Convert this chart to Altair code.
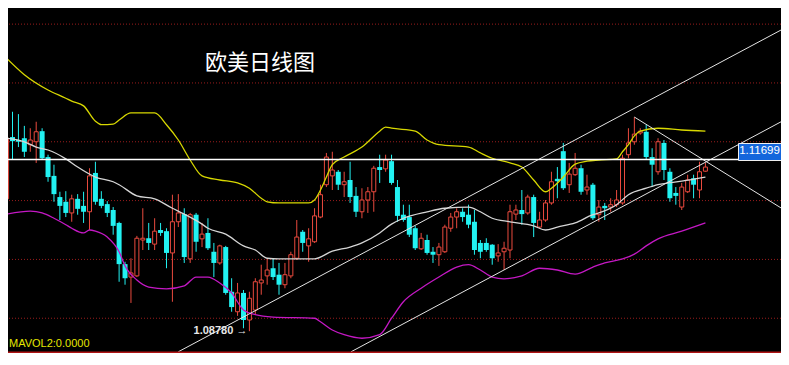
import altair as alt
import pandas as pd

# ---------------- data ----------------
open_ = [1.1103,1.1208,1.1203,1.1206,1.1195,1.1200,1.1218,1.1174,1.1142,1.1106,
         1.1098,1.1079,1.1103,1.1091,1.1081,1.1147,1.1103,1.1094,1.1084,1.1062,
         1.0992,1.0970,1.0972,1.1033,1.1036,1.1026,1.1050,1.1048,1.1011,1.1064,
         1.1077,1.1001,1.1076,1.1035,1.1045,1.1013,1.0994,1.1021,1.0945,1.0911,
         1.0943,1.0897,1.0914,1.0960,1.0972,1.0985,1.0974,1.0957,1.0972,1.1002,
         1.1047,1.1023,1.1030,1.1072,1.1127,1.1142,1.1149,1.1127,1.1135,1.1108,
         1.1081,1.1101,1.1115,1.1157,1.1154,1.1167,1.1123,1.1076,1.1072,1.1053,
         1.1018,1.1033,1.1013,1.1008,1.1013,1.1053,1.1072,1.1081,1.1076,1.1064,
         1.1028,1.1028,1.1025,1.1006,1.1013,1.1016,1.1077,1.1084,1.1079,1.1106,
         1.1055,1.1067,1.1096,1.1137,1.1184,1.1127,1.1144,1.1155,1.1118,1.1127,
         1.1076,1.1091,1.1089,1.1093,1.1096,1.1178,1.1200,1.1215,1.1217,1.1174,
         1.1149,1.1198,1.1149,1.1113,1.1089,1.1115,1.1138,1.1118,1.1150]
close = [1.1206,1.1201,1.1200,1.1183,1.1203,1.1217,1.1172,1.1140,1.1111,1.1091,
         1.1079,1.1103,1.1086,1.1081,1.1142,1.1098,1.1091,1.1079,1.1057,1.0992,
         1.0968,1.0977,1.1036,1.1036,1.1028,1.1048,1.1045,1.1011,1.1064,1.1079,
         1.1004,1.1076,1.1030,1.1043,1.1019,1.0994,1.1023,1.0943,1.0919,1.0943,
         1.0897,1.0934,1.0962,1.0965,1.0982,1.0970,1.0957,1.0974,1.1008,1.1038,
         1.1028,1.1035,1.1074,1.1110,1.1174,1.1152,1.1127,1.1132,1.1106,1.1081,
         1.1101,1.1115,1.1155,1.1152,1.1169,1.1130,1.1074,1.1067,1.1042,1.1019,
         1.1036,1.1011,1.1008,1.1021,1.1055,1.1072,1.1081,1.1072,1.1059,1.1016,
         1.1013,1.1016,1.1002,1.1011,1.1019,1.1081,1.1084,1.1077,1.1106,1.1062,
         1.1067,1.1096,1.1132,1.1133,1.1121,1.1145,1.1155,1.1115,1.1123,1.1070,
         1.1089,1.1087,1.1093,1.1101,1.1172,1.1198,1.1213,1.1218,1.1174,1.1161,
         1.1200,1.1152,1.1104,1.1108,1.1123,1.1135,1.1127,1.1149,1.1157]
high = [1.1212,1.1251,1.1247,1.1227,1.1223,1.1234,1.1223,1.1178,1.1161,1.1115,
        1.1116,1.1110,1.1111,1.1115,1.1155,1.1166,1.1116,1.1099,1.1089,1.1064,
        1.0996,1.1002,1.1040,1.1087,1.1062,1.1070,1.1062,1.1053,1.1110,1.1111,
        1.1087,1.1079,1.1079,1.1062,1.1070,1.1028,1.1025,1.1023,1.0968,1.0960,
        1.0948,1.0945,1.0968,1.0991,1.1002,1.1002,1.0994,1.0994,1.1013,1.1067,
        1.1050,1.1053,1.1087,1.1127,1.1181,1.1183,1.1152,1.1149,1.1166,1.1123,
        1.1121,1.1123,1.1159,1.1178,1.1178,1.1178,1.1135,1.1093,1.1093,1.1057,
        1.1045,1.1042,1.1021,1.1028,1.1059,1.1079,1.1087,1.1087,1.1093,1.1084,
        1.1033,1.1036,1.1026,1.1026,1.1030,1.1093,1.1093,1.1118,1.1110,1.1110,
        1.1081,1.1101,1.1149,1.1157,1.1198,1.1164,1.1181,1.1161,1.1144,1.1130,
        1.1101,1.1096,1.1104,1.1118,1.1178,1.1223,1.1242,1.1223,1.1229,1.1189,
        1.1206,1.1203,1.1155,1.1123,1.1130,1.1144,1.1144,1.1166,1.1164]
low = [1.1101,1.1169,1.1191,1.1174,1.1183,1.1164,1.1169,1.1132,1.1098,1.1067,
       1.1072,1.1064,1.1076,1.1062,1.1050,1.1093,1.1087,1.1072,1.1042,1.0962,
       1.0957,1.0926,1.0970,1.1016,1.1016,1.1016,1.1040,1.0985,1.0928,1.1055,
       1.0994,1.0994,1.1013,1.1021,1.1016,1.0970,1.0991,1.0940,1.0911,1.0904,
       1.0883,1.0878,1.0907,1.0940,1.0957,1.0965,1.0940,1.0951,1.0968,1.0999,
       1.1013,1.0996,1.1028,1.1070,1.1123,1.1118,1.1118,1.1106,1.1096,1.1072,
       1.1070,1.1079,1.1081,1.1130,1.1149,1.1127,1.1064,1.1064,1.1038,1.1016,
       1.1016,1.1008,1.0994,1.0989,1.1011,1.1047,1.1053,1.1064,1.1053,1.1008,
       1.1002,1.1013,1.0991,1.0996,1.0982,1.1002,1.1067,1.1059,1.1076,1.1038,
       1.1053,1.1064,1.1093,1.1104,1.1118,1.1113,1.1142,1.1110,1.1110,1.1067,
       1.1064,1.1067,1.1081,1.1089,1.1093,1.1172,1.1195,1.1212,1.1169,1.1123,
       1.1144,1.1135,1.1098,1.1093,1.1084,1.1113,1.1104,1.1104,1.1149]

upper_idx = [0,3,7,10,11,13,15,16,18,19,21,25,27,29,31,33,36,39,41,43,
             44,46,51,52,53,54,55,57,60,63,64,65,69,71,73,78,80,82,85,87,
             89,91,92,94,96,98,100,103,104,105,106,107,110,114,118]
upper_val = [1.1342,1.1314,1.1288,1.1274,1.1269,1.1261,1.1235,1.1229,1.1230,1.1237,
             1.1249,1.1249,1.1229,1.1203,1.1169,1.1142,1.1135,1.1130,1.1121,1.1104,
             1.1098,1.1096,1.1096,1.1101,1.1118,1.1140,1.1161,1.1174,1.1191,1.1218,
             1.1225,1.1223,1.1218,1.1203,1.1195,1.1191,1.1181,1.1172,1.1164,1.1157,
             1.1135,1.1115,1.1121,1.1140,1.1162,1.1167,1.1169,1.1171,1.1183,1.1195,
             1.1210,1.1218,1.1223,1.1220,1.1218]
mid_idx = [0,3,5,7,10,12,15,18,19,22,25,28,30,33,34,37,40,42,44,46,
           52,55,58,60,63,65,67,71,74,78,80,82,85,89,91,93,96,99,100,103,
           105,108,110,114,118]
mid_val = [1.1206,1.1200,1.1191,1.1186,1.1171,1.1157,1.1140,1.1132,1.1127,1.1108,
           1.1103,1.1087,1.1077,1.1060,1.1053,1.1043,1.1023,1.1016,1.1002,1.1001,
           1.1001,1.1014,1.1021,1.1028,1.1045,1.1060,1.1070,1.1081,1.1087,1.1089,
           1.1081,1.1070,1.1064,1.1057,1.1050,1.1055,1.1062,1.1076,1.1079,1.1093,
           1.1110,1.1121,1.1127,1.1133,1.1140]
lower_idx = [0,4,6,8,10,11,13,14,15,17,19,20,22,24,27,30,32,34,36,38,
             40,42,45,52,53,55,57,60,63,65,67,70,73,76,78,80,82,84,87,90,
             93,96,99,101,104,106,108,110,114,118]
lower_val = [1.1077,1.1082,1.1079,1.1070,1.1059,1.1053,1.1045,1.1050,1.1048,1.1038,
             1.1013,1.0989,1.0965,1.0953,1.0950,1.0955,1.0970,1.0970,1.0960,1.0943,
             1.0914,1.0906,1.0902,1.0900,1.0894,1.0880,1.0872,1.0866,1.0872,1.0900,
             1.0928,1.0951,1.0970,1.0987,1.0991,1.0982,1.0970,1.0967,1.0972,1.0985,
             1.0982,1.0975,1.0987,1.0994,1.1001,1.1009,1.1023,1.1035,1.1048,1.1062]

trend_name = ["A", "A", "B", "B", "C", "C"]
trend_idx = [29, 131.33, 58.17, 131.33, 106, 131.33]
trend_price = [1.0843, 1.1393, 1.0843, 1.1237, 1.1242, 1.1084]

grid_levels = [1.09, 1.10, 1.11, 1.12, 1.13, 1.14]
last_price = 1.11699
low_price = 1.08780
low_idx = 41
title_text = "欧美日线图"
vol_text = "MAVOL2:0.0000"

# ---------------- styling ----------------
RED = "#ea4a3e"
CYAN = "#22f2f2"
W, H = 773, 345
xs = alt.Scale(domain=[1.0833, 1.0833 + W / 6.0], nice=False, zero=False)
ys = alt.Scale(domain=[1.08409, 1.14274], nice=False, zero=False)

candles = pd.DataFrame({"idx": list(range(len(open_))), "open": open_,
                        "high": high, "low": low, "close": close})
candles["up"] = candles["close"] >= candles["open"]

X = alt.X("idx:Q", scale=xs, axis=None)

grid = alt.Chart(pd.DataFrame({"p": grid_levels})).mark_rule(
    color="#9a1c1c", strokeDash=[1, 2], strokeWidth=1, clip=True).encode(
    y=alt.Y("p:Q", scale=ys, axis=None))

wick = alt.Chart(candles).mark_rule(strokeWidth=1, clip=True).encode(
    x=X, y=alt.Y("low:Q", scale=ys, axis=None), y2="high:Q",
    color=alt.Color("up:N", scale=alt.Scale(domain=[True, False], range=[RED, CYAN]), legend=None))

body_dn = alt.Chart(candles).transform_filter("datum.close < datum.open").mark_bar(
    width=5, color=CYAN, clip=True).encode(
    x=X, y=alt.Y("open:Q", scale=ys, axis=None), y2="close:Q")

body_up = alt.Chart(candles).transform_filter("datum.close >= datum.open").mark_bar(
    width=4, fill="black", stroke=RED, strokeWidth=1, clip=True).encode(
    x=X, y=alt.Y("open:Q", scale=ys, axis=None), y2="close:Q")

def band(idx, val, color, sw):
    d = pd.DataFrame({"idx": idx, "v": val})
    return alt.Chart(d).mark_line(color=color, strokeWidth=sw, interpolate="monotone",
                                  clip=True).encode(x=X, y=alt.Y("v:Q", scale=ys, axis=None))

up_line = band(upper_idx, upper_val, "#d8d800", 1.3)
mid_line = band(mid_idx, mid_val, "#d6d6d6", 1.3)
low_line = band(lower_idx, lower_val, "#c418c4", 1.3)

trend = alt.Chart(pd.DataFrame({"name": trend_name, "idx": trend_idx, "p": trend_price})
                  ).mark_line(color="#e4e4e4", strokeWidth=1, clip=True).encode(
    x=X, y=alt.Y("p:Q", scale=ys, axis=None), detail="name:N")

last_df = pd.DataFrame({"p": [last_price], "t": [f"{last_price:.5f}"]})
last_line = alt.Chart(last_df).mark_rule(color="white", strokeWidth=1.6).encode(
    y=alt.Y("p:Q", scale=ys, axis=None), x=alt.value(0), x2=alt.value(730))
last_box = alt.Chart(last_df).mark_rect(fill="#1466dc", stroke="#f0f0f0", strokeWidth=1).encode(
    x=alt.value(730.5), x2=alt.value(778), y=alt.value(135.5), y2=alt.value(152.5))
last_txt = alt.Chart(last_df).mark_text(color="white", font="Liberation Sans", fontSize=11.5,
                                        align="center", baseline="middle", dy=-8).encode(
    x=alt.value(751.5), y=alt.Y("p:Q", scale=ys, axis=None), text="t:N")

low_df = pd.DataFrame({"idx": [low_idx], "p": [low_price], "t": [f"{low_price:.5f} \u2192"]})
low_txt = alt.Chart(low_df).mark_text(color="#e8e8e8", font="Liberation Sans", fontWeight="bold",
                                      fontSize=11, align="right", baseline="middle", dx=-2).encode(
    x=X, y=alt.Y("p:Q", scale=ys, axis=None), text="t:N")

title = alt.Chart(pd.DataFrame({"t": [title_text]})).mark_text(
    color="white", font="Noto Sans CJK SC", fontSize=22, align="left", baseline="middle").encode(
    x=alt.value(197), y=alt.value(55), text="t:N")

sep = alt.Chart(pd.DataFrame({"a": [0]})).mark_rule(color="#b01414", strokeWidth=1.5).encode(
    y=alt.value(344.2), x=alt.value(0), x2=alt.value(W))
vol = alt.Chart(pd.DataFrame({"t": [vol_text]})).mark_text(
    color="#e6e600", font="Liberation Sans", fontSize=11, align="left", baseline="bottom").encode(
    x=alt.value(1), y=alt.value(341), text="t:N")

chart = alt.layer(grid, wick, body_dn, body_up, up_line, mid_line, low_line, trend,
                  last_line, last_box, last_txt, low_txt, title, sep, vol
                  ).properties(width=W, height=H, padding=0,
                               autosize=alt.AutoSizeParams(type="none"),
                               background="black").configure_view(stroke=None)

chart.save("out.html", embed_options={"renderer": "svg", "actions": False})
